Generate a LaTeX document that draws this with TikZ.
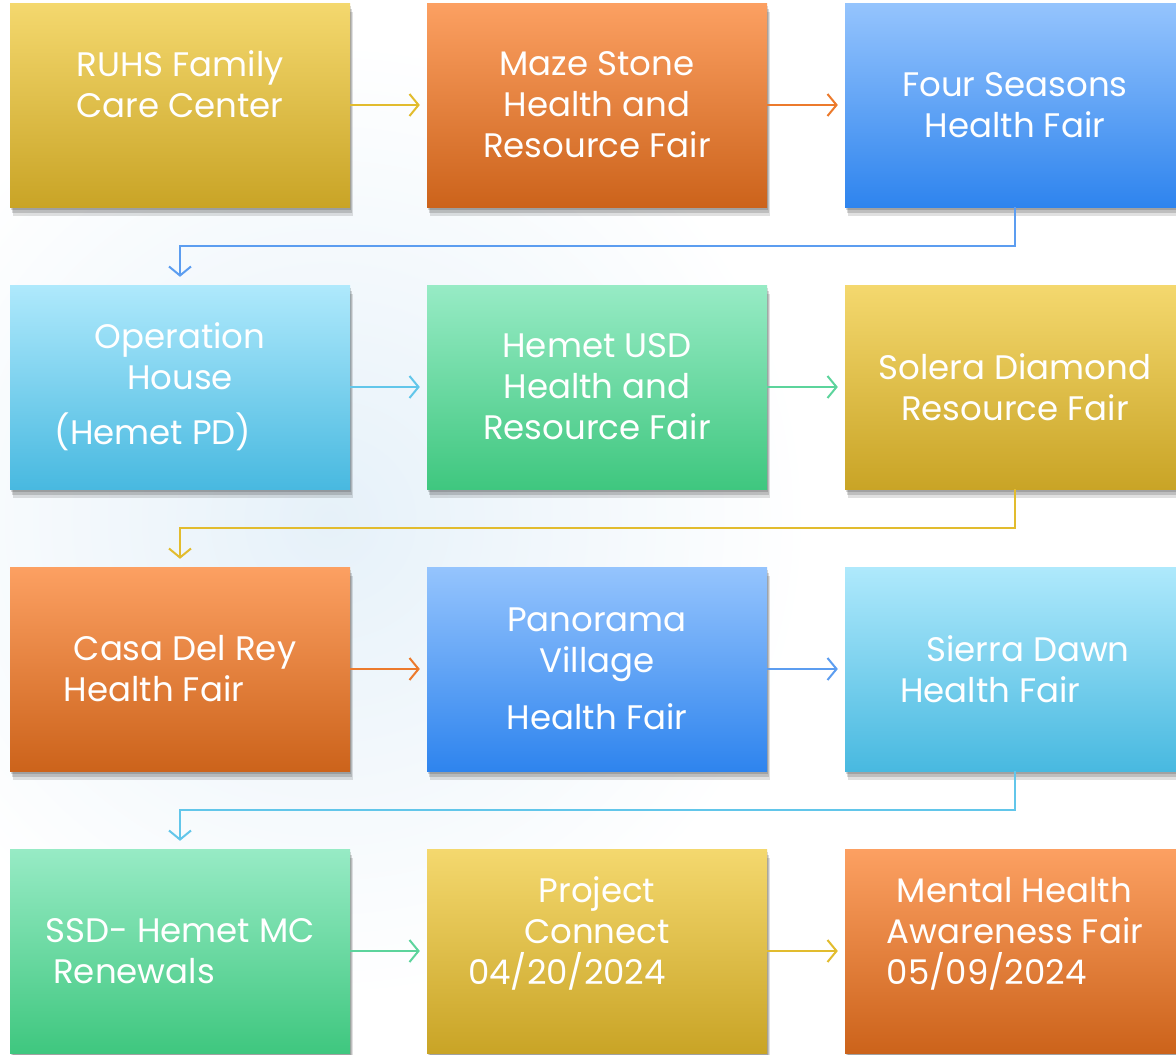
\documentclass[tikz,border=0pt]{standalone}
\usepackage{fontspec}
\setmainfont{Poppins}
\usetikzlibrary{arrows.meta,shadows}
\definecolor{goldT}{HTML}{F4D86E}
\definecolor{goldB}{HTML}{C9A426}
\definecolor{goldA}{HTML}{E2BC2E}
\definecolor{orngT}{HTML}{FCA062}
\definecolor{orngB}{HTML}{CC631B}
\definecolor{orngA}{HTML}{EC7A2C}
\definecolor{blueT}{HTML}{95C4FD}
\definecolor{blueB}{HTML}{2E84EE}
\definecolor{blueA}{HTML}{5C9DF0}
\definecolor{skyT}{HTML}{AFE9FC}
\definecolor{skyB}{HTML}{48B9E0}
\definecolor{skyA}{HTML}{62C6EA}
\definecolor{grnT}{HTML}{97EBC5}
\definecolor{grnB}{HTML}{3FC77F}
\definecolor{grnA}{HTML}{5CD49C}
\definecolor{backg}{HTML}{E6F1F9}
\newcommand{\lastline}{\rule{0pt}{10pt}}
\begin{document}
\begin{tikzpicture}[x=1pt,y=-1pt,
    box/.style={minimum width=340pt,minimum height=204pt,inner sep=0pt,text=white,
        font=\fontsize{34}{41}\selectfont,
        drop shadow={shadow xshift=1pt,shadow yshift=-3pt,opacity=0.15,fill=black},
        drop shadow={shadow xshift=2pt,shadow yshift=-6pt,opacity=0.15,fill=black},
        drop shadow={shadow xshift=3pt,shadow yshift=-9pt,opacity=0.12,fill=black}},
    gold/.style={box,top color=goldT,bottom color=goldB},
    orng/.style={box,top color=orngT,bottom color=orngB},
    blue/.style={box,top color=blueT,bottom color=blueB},
    sky/.style={box,top color=skyT,bottom color=skyB},
    grn/.style={box,top color=grnT,bottom color=grnB},
    link/.style={line width=2pt,-{Straight Barb[length=9pt,width=22pt,line width=2pt]}}]
    \clip (0,0) rectangle (1176,1055);
    \useasboundingbox (0,0) rectangle (1176,1055);
    \fill[white] (0,0) rectangle (1176,1055);
    \shade[inner color=backg,outer color=white] (330,520) circle (480);

    \node[gold,align=center] (ruhs) at (180,105) {RUHS Family\\Care Center\\\lastline};
    \node[orng,align=center] (maze) at (597,105) {Maze Stone\\Health and\\Resource Fair};
    \node[blue,align=center] (four) at (1015,105) {Four Seasons\\Health Fair};

    \node[sky,align=center] (oper) at (180,387) {Operation\\House\\[14pt](Hemet PD)\hspace*{54pt}};
    \node[grn,align=center] (usd) at (597,387) {Hemet USD\\Health and\\Resource Fair};
    \node[gold,align=center] (solera) at (1015,387) {Solera Diamond\\Resource Fair};

    \node[orng,align=left] (casa) at (180,669) {\hspace*{10pt}Casa Del Rey\\Health Fair};
    \node[blue,align=center] (pano) at (597,669) {Panorama\\Village\\[16pt]Health Fair};
    \node[sky,align=left] (sierra) at (1015,669) {\hspace*{26pt}Sierra Dawn\\Health Fair};

    \node[grn,align=left] (ssd) at (180,951) {SSD- Hemet MC\\\hspace*{8pt}Renewals};
    \node[gold,align=center] (proj) at (597,951) {Project\\Connect\\\hspace*{-60pt}04/20/2024\\\lastline};
    \node[orng,align=left] (mental) at (1015,951) {\hspace*{10pt}Mental Health\\Awareness Fair\\05/09/2024\\\lastline};

    \draw[link,goldA,shorten >=7pt] (ruhs.east) -- (maze.west);
    \draw[link,orngA,shorten >=7pt] (maze.east) -- (four.west);
    \draw[link,blueA,shorten >=8pt] (four.south) -- ++(0,39) -| (oper.north);

    \draw[link,skyA,shorten >=7pt] (oper.east) -- (usd.west);
    \draw[link,grnA,shorten >=7pt] (usd.east) -- (solera.west);
    \draw[link,goldA,shorten >=8pt] (solera.south) -- ++(0,39) -| (casa.north);

    \draw[link,orngA,shorten >=7pt] (casa.east) -- (pano.west);
    \draw[link,blueA,shorten >=7pt] (pano.east) -- (sierra.west);
    \draw[link,skyA,shorten >=8pt] (sierra.south) -- ++(0,39) -| (ssd.north);

    \draw[link,grnA,shorten >=7pt] (ssd.east) -- (proj.west);
    \draw[link,goldA,shorten >=7pt] (proj.east) -- (mental.west);
\end{tikzpicture}
\end{document}
